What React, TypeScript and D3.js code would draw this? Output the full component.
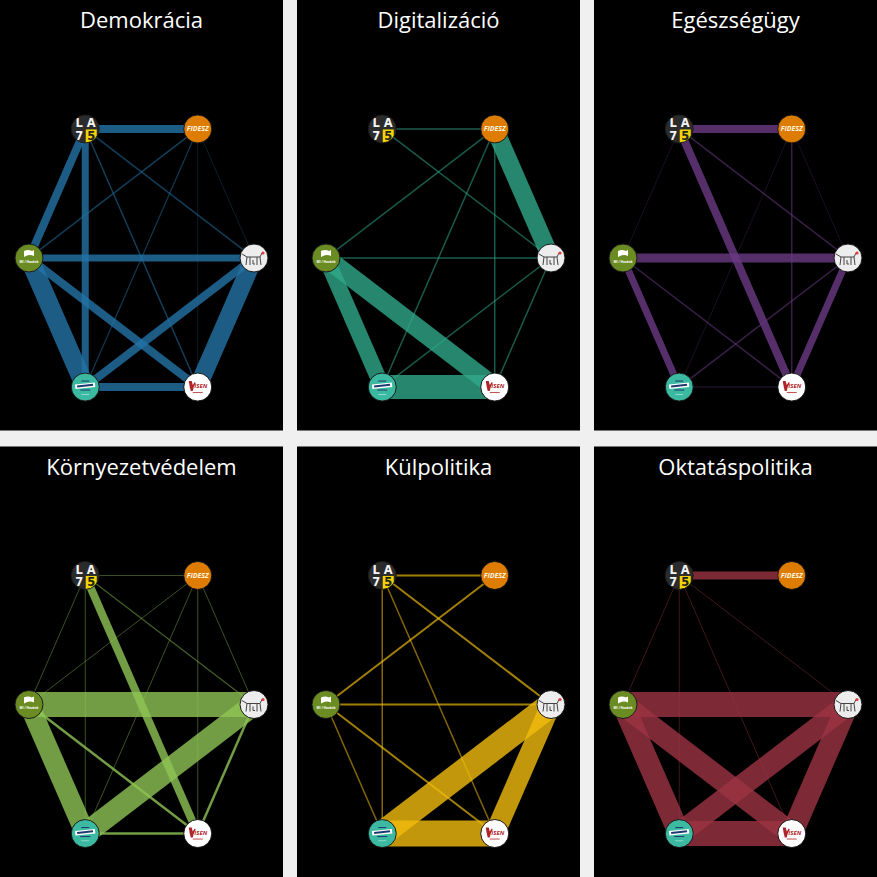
import React, { useEffect, useRef } from 'react';
import * as d3 from 'd3';

const W = 877;
const H = 877;

const topics = ['Demokrácia', 'Digitalizáció', 'Egészségügy', 'Környezetvédelem', 'Külpolitika', 'Oktatáspolitika'];

// parties clockwise, starting top-left
const parties = ['la75', 'fidesz', 'mkkp', 'isen', 'teal', 'green'];

const pairs: [string, string][] = [
  ['la75', 'fidesz'], ['la75', 'green'], ['la75', 'mkkp'], ['la75', 'teal'], ['la75', 'isen'],
  ['fidesz', 'green'], ['fidesz', 'mkkp'], ['fidesz', 'teal'], ['fidesz', 'isen'],
  ['green', 'mkkp'], ['green', 'teal'], ['green', 'isen'],
  ['mkkp', 'teal'], ['mkkp', 'isen'],
  ['teal', 'isen'],
];

const demokracia = [3.2, 3.2, 0.6, 2.8, 0.6, 0.6, 0.3, 0.5, 0.3, 2.8, 7.6, 3.2, 3.2, 7.2, 3.2];
const digitalizacio = [0.6, 0, 0.6, 0, 0, 0.6, 7.2, 0.6, 0.6, 0.6, 6.4, 7.6, 0.6, 0.6, 9.6];
const egeszsegugy = [3.2, 0.3, 0.6, 0, 3.2, 0, 0.3, 0.3, 0.6, 3.6, 2.8, 0.6, 0.6, 2.8, 0.4];
const kornyezetvedelem = [0.4, 0.4, 0.5, 0.4, 3.2, 0.4, 0.4, 0.4, 0.4, 10, 8, 1, 8.8, 1, 1];
const kulpolitika = [0.8, 0, 0.8, 0.6, 0.6, 0.8, 0, 0, 0, 0.8, 0.6, 0.8, 10, 8, 10.4];
const oktataspolitika = [3.2, 0.4, 0.4, 0.4, 0.4, 0, 0, 0, 0, 10, 8.8, 8.8, 8.8, 8.8, 10];

const topicWeights = [demokracia, digitalizacio, egeszsegugy, kornyezetvedelem, kulpolitika, oktataspolitika];
const topicColors = ['#2373a6', '#2fa98a', '#6a3a84', '#8fc455', '#f2bd0e', '#9c3344'];

const R = 14;

function drawLogo(g: any, id: string, clipId: string) {
  g.append('clipPath').attr('id', clipId).append('circle').attr('r', R);
  const inner = g.append('g').attr('clip-path', `url(#${clipId})`);
  if (id === 'la75') {
    inner.append('circle').attr('r', R).attr('fill', '#2b2b2b');
    inner.append('rect').attr('x', 0.5).attr('y', 0.5).attr('width', 11).attr('height', 14).attr('fill', '#f3d400');
    const t = [['L', -6, -1.5, '#f4f4f4'], ['A', 6, -1.5, '#f4f4f4'], ['7', -6, 11, '#f4f4f4'], ['5', 6, 11, '#222']];
    t.forEach(([s, x, y, c]) => {
      inner.append('text').attr('x', x).attr('y', y).attr('text-anchor', 'middle')
        .attr('font-family', 'DejaVu Sans').attr('font-weight', 'bold').attr('font-size', 11.5)
        .attr('fill', c).text(s);
    });
  } else if (id === 'fidesz') {
    inner.append('circle').attr('r', R).attr('fill', '#de7c00');
    inner.append('text').attr('y', 2.5).attr('text-anchor', 'middle')
      .attr('font-family', 'Open Sans').attr('font-style', 'italic').attr('font-weight', 'bold')
      .attr('font-size', 7).attr('fill', '#fff4e0').text('FIDESZ');
  } else if (id === 'green') {
    inner.append('circle').attr('r', R).attr('fill', '#6a8c22');
    inner.append('path').attr('d', 'M-5,-7 Q-1,-9 3,-7 L5,-8 L5,-2 Q1,-4 -3,-2 L-5,-1 Z').attr('fill', '#fff');
    inner.append('text').attr('y', 4.5).attr('text-anchor', 'middle')
      .attr('font-family', 'Open Sans').attr('font-size', 3.2).attr('font-weight', 'bold')
      .attr('fill', '#fff').text('MI / Hazánk');
  } else if (id === 'mkkp') {
    inner.append('circle').attr('r', R).attr('fill', '#ededed');
    inner.append('path')
      .attr('d', 'M-12,-4 L-7,-1 L6,-1 L8,-5 M-7,-1 L-8,7 M-4,-1 L-4,7 M3,-1 L3,7 M6,-1 L7,7 M-1,2 L-1,6 L1,6')
      .attr('fill', 'none').attr('stroke', '#444').attr('stroke-width', 1);
    inner.append('circle').attr('cx', 9).attr('cy', -5).attr('r', 1.6).attr('fill', '#e23b3b');
  } else if (id === 'teal') {
    inner.append('circle').attr('r', R).attr('fill', '#3cb9a1');
    inner.append('rect').attr('x', -10).attr('y', -3.5).attr('width', 20).attr('height', 4.5)
      .attr('fill', '#fff').attr('transform', 'rotate(-6)');
    inner.append('rect').attr('x', -8).attr('y', -2.4).attr('width', 16).attr('height', 2)
      .attr('fill', '#1e3a6e').attr('transform', 'rotate(-6)');
    inner.append('rect').attr('x', -4).attr('y', -6.5).attr('width', 8).attr('height', 1).attr('fill', '#1e3a6e');
    inner.append('rect').attr('x', -5).attr('y', 2.5).attr('width', 10).attr('height', 1).attr('fill', '#1e3a6e');
    inner.append('rect').attr('x', -4).attr('y', 7).attr('width', 8).attr('height', 0.6).attr('fill', '#bfeee4');
  } else if (id === 'isen') {
    inner.append('circle').attr('r', R).attr('fill', '#ffffff');
    inner.append('path').attr('d', 'M-9,-6 L-6,-6 L-5,-2 L-3,-5 L-2,-4 L-4,0 L-5,4 L-7,4 L-8,0 Z').attr('fill', '#b0252a');
    inner.append('text').attr('x', 3).attr('y', 1).attr('text-anchor', 'middle')
      .attr('font-family', 'Open Sans').attr('font-weight', 'bold').attr('font-style', 'italic')
      .attr('font-size', 6).attr('fill', '#b0252a').text('ISEN');
    inner.append('rect').attr('x', -5).attr('y', 5).attr('width', 10).attr('height', 1).attr('fill', '#c05050');
  }
  g.append('circle').attr('r', R).attr('fill', 'none').attr('stroke', '#1c1c1c').attr('stroke-width', 1);
}

const App = () => {
  const svgRef = useRef(null);

  useEffect(() => {
    const svg = d3.select(svgRef.current);
    svg.selectAll('*').remove();

    svg.append('rect').attr('width', W).attr('height', H).attr('fill', '#f0f0f0');

    const col = d3.scaleBand().domain(['0', '1', '2']).range([0, W]).paddingInner(14 / 297);
    const row = d3.scaleBand().domain(['0', '1']).range([0, H]).paddingInner(16 / 446.5);
    const bw = col.bandwidth();
    const bh = row.bandwidth();

    const angle = d3.scaleLinear().domain([0, parties.length]).range([240, 600]);
    const px = d3.scaleLinear().domain([-1, 1]).range([bw / 2 - 112.5, bw / 2 + 112.5]);
    const py = d3.scaleLinear().domain([-1, 1]).range([258 - 149, 258 + 149]);
    const pos: Record<string, [number, number]> = {};
    parties.forEach((p, i) => {
      const a = (angle(i) * Math.PI) / 180;
      pos[p] = [px(Math.cos(a)), py(Math.sin(a))];
    });

    const width = d3.scaleLinear().domain([0, 10]).range([0, 25]);
    const alpha = d3.scaleLinear().domain([0.3, 1]).range([0.35, 0.8]).clamp(true);

    topics.forEach((topic, ti) => {
      const g = svg.append('g')
        .attr('transform', `translate(${col(String(ti % 3))},${row(String(Math.floor(ti / 3)))})`);
      g.append('rect').attr('width', bw).attr('height', bh).attr('fill', '#000');
      g.append('text').attr('x', bw / 2).attr('y', 28).attr('text-anchor', 'middle')
        .attr('font-family', 'Open Sans').attr('font-size', 22).attr('fill', '#fff').text(topic);

      const edges = pairs.map((p, i) => ({ s: p[0], t: p[1], w: topicWeights[ti][i] })).filter((e) => e.w > 0);
      g.append('g').selectAll('line').data(edges).enter().append('line')
        .attr('x1', (d) => pos[d.s][0]).attr('y1', (d) => pos[d.s][1])
        .attr('x2', (d) => pos[d.t][0]).attr('y2', (d) => pos[d.t][1])
        .attr('stroke', topicColors[ti])
        .attr('stroke-opacity', (d) => alpha(d.w))
        .attr('stroke-width', (d) => width(d.w));

      parties.forEach((p) => {
        const ng = g.append('g').attr('transform', `translate(${pos[p][0]},${pos[p][1]})`);
        drawLogo(ng, p, `clip-${ti}-${p}`);
      });
    });
  }, []);

  return (
    <svg ref={svgRef} width={W} height={H} style={{ position: 'absolute', left: 0, top: 0 }} />
  );
};

export default App;
